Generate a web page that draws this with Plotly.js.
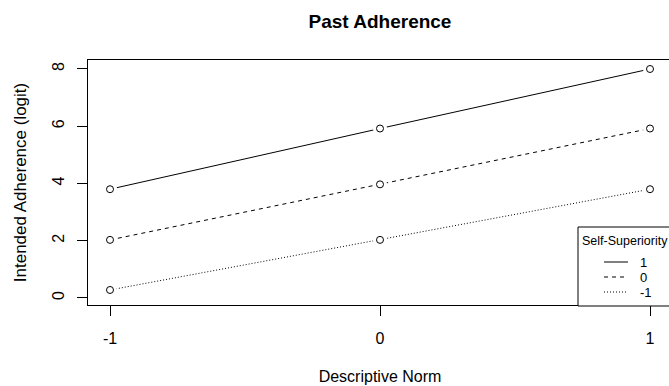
<!DOCTYPE html>
<html>
<head>
<meta charset="utf-8">
<script src="https://cdn.plot.ly/plotly-3.0.1.min.js"></script>
<style>
html,body{margin:0;padding:0;overflow:hidden;background:#fff;width:669px;height:386px;}
#chart{width:672px;height:386px;}
</style>
</head>
<body>
<div id="chart"></div>
<script>
// Data
var descriptiveNorm = [-1, 0, 1];
var seriesNames = ["1", "0", "-1"];
var seriesHigh = [3.80, 5.92, 8.00];   // Self-Superiority = 1
var seriesMid  = [2.03, 3.97, 5.92];   // Self-Superiority = 0
var seriesLow  = [0.28, 2.03, 3.80];   // Self-Superiority = -1
var xTickVals = [-1, 0, 1];
var xTickText = ["-1", "0", "1"];
var yTickVals = [0, 2, 4, 6, 8];
var legendTitle = "Self-Superiority";

var seriesValues = [seriesHigh, seriesMid, seriesLow];
var dashes = ["solid", "4px,4px", "1px,2px"];
var font = "Liberation Sans, Arial, sans-serif";

var traces = [];
// connecting lines
seriesValues.forEach(function (v, i) {
  traces.push({x: descriptiveNorm, y: v, type: "scatter", mode: "lines",
    line: {color: "#000", width: 1, dash: dashes[i]}, showlegend: false, hoverinfo: "skip"});
});
// white gaps around points (type = "b" style)
seriesValues.forEach(function (v) {
  traces.push({x: descriptiveNorm, y: v, type: "scatter", mode: "markers",
    marker: {color: "#fff", size: 14, line: {width: 0}}, showlegend: false, hoverinfo: "skip", cliponaxis: false});
});
// open circles
seriesValues.forEach(function (v) {
  traces.push({x: descriptiveNorm, y: v, type: "scatter", mode: "markers",
    marker: {color: "#fff", size: 7, symbol: "circle", line: {color: "#000", width: 1}}, showlegend: false, cliponaxis: false});
});

var W = 672, H = 386, L = 88, T = 60, B = 81, R = 0;
var pw = W - L - R, ph = H - T - B;
function px(x) { return (x - L) / pw; }
function py(y) { return (H - B - y) / ph; }

var shapes = [
  {type: "rect", xref: "paper", yref: "paper", x0: px(578), x1: px(680), y0: py(306), y1: py(227),
   line: {color: "#000", width: 1}, fillcolor: "#fff", layer: "above"}
];
var annotations = [
  {xref: "paper", yref: "paper", x: px(580), y: py(241), text: legendTitle, showarrow: false,
   xanchor: "left", yanchor: "middle", font: {family: font, size: 12.5, color: "#000"}}
];
var itemY = [262, 277, 292];
seriesNames.forEach(function (n, i) {
  shapes.push({type: "line", xref: "paper", yref: "paper", x0: px(604), x1: px(628), y0: py(itemY[i]), y1: py(itemY[i]),
    line: {color: "#000", width: 1, dash: dashes[i]}, layer: "above"});
  annotations.push({xref: "paper", yref: "paper", x: px(638), y: py(itemY[i]), text: n, showarrow: false,
    xanchor: "left", yanchor: "middle", font: {family: font, size: 13, color: "#000"}});
});

var layout = {
  width: W, height: H,
  margin: {l: L, r: R, t: T, b: B, pad: 0},
  paper_bgcolor: "#fff", plot_bgcolor: "#fff",
  font: {family: font, color: "#000", size: 16},
  title: {text: "<b>Past Adherence</b>", xref: "paper", x: 0.5, yref: "container", y: 1 - 21 / 386,
    yanchor: "middle", font: {family: font, size: 19, color: "#000"}},
  xaxis: {range: [-1.0815, 1.0815], showgrid: false, zeroline: false, showline: true, mirror: true,
    linecolor: "#000", linewidth: 1, ticks: "outside", ticklen: 10, tickcolor: "#000", tickwidth: 1,
    tickvals: xTickVals, ticktext: xTickText, tickfont: {size: 16}, ticklabelstandoff: 9,
    title: {text: "Descriptive Norm", font: {size: 16}, standoff: 24}},
  yaxis: {range: [-0.245, 8.314], showgrid: false, zeroline: false, showline: true, mirror: true,
    linecolor: "#000", linewidth: 1, ticks: "outside", ticklen: 10, tickcolor: "#000", tickwidth: 1,
    tickvals: yTickVals, tickangle: -90, tickfont: {size: 16}, ticklabelstandoff: 7,
    title: {text: "Intended Adherence (logit)", font: {size: 17}, standoff: 18}},
  shapes: shapes,
  annotations: annotations,
  showlegend: false
};

Plotly.newPlot("chart", traces, layout, {displayModeBar: false, staticPlot: true});
</script>
</body>
</html>
